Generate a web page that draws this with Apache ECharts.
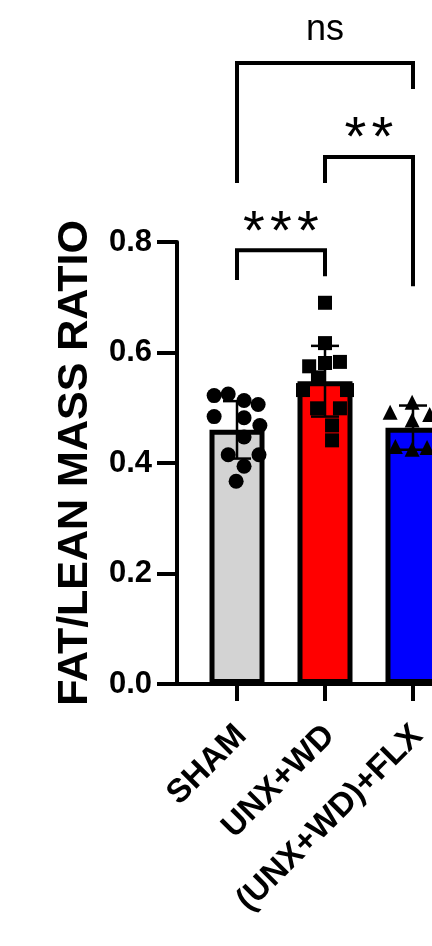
<!DOCTYPE html>
<html>
<head>
<meta charset="utf-8">
<title>Fat/Lean mass ratio</title>
<script src="https://cdn.jsdelivr.net/npm/echarts@6/dist/echarts.min.js"></script>
<style>
  html, body { margin: 0; padding: 0; background: #fff; }
  #chart { width: 432px; height: 946px; }
</style>
</head>
<body>
<div id="chart"></div>
<script>
// Groups and their summary values (mean ± SD)
const categories = ['SHAM', 'UNX+WD', '(UNX+WD)+FLX'];
const groupMeans = [0.460, 0.548, 0.464];
const groupSD = [0.052, 0.064, 0.040];
const barColors = ['#d3d3d3', '#ff0000', '#0000ff'];

// Individual animals per group
const shamValues = [0.522, 0.525, 0.513, 0.506, 0.484, 0.482, 0.468, 0.447, 0.415, 0.415, 0.394, 0.367];
const unxWdValues = [0.690, 0.617, 0.575, 0.581, 0.583, 0.555, 0.532, 0.532, 0.499, 0.499, 0.468, 0.441];
const flxValues = [0.492, 0.510, 0.488, 0.478, 0.430, 0.425, 0.428];

// Y axis ticks
const yTicks = [0, 0.2, 0.4, 0.6, 0.8];

// Pairwise comparisons: group positions (1-based), bracket heights and result
const bracketFrom = [1, 2, 1];
const bracketTo = [2, 3, 3];
const bracketTop = [0.785, 0.954, 1.124];
const bracketLeftEnd = [0.731, 0.907, 0.907];
const bracketRightEnd = [0.738, 0.720, 1.077];
const bracketLabels = ['***', '**', 'ns'];

// Horizontal scatter of the dots inside each bar (fraction of group spacing)
const shamSpread = [-0.26, -0.10, 0.08, 0.24, -0.26, 0.08, 0.26, 0.08, -0.10, 0.25, 0.08, -0.01];
const unxWdSpread = [0, 0, -0.18, 0, 0.17, -0.08, -0.25, 0.25, -0.09, 0.17, 0.08, 0.08];
const flxSpread = [-0.26, -0.01, 0.19, -0.01, -0.20, -0.01, 0.16];

const FONT = '"Liberation Sans", Arial, Helvetica, sans-serif';
const positions = categories.map((c, i) => i + 1);

const chart = echarts.init(document.getElementById('chart'), null, { renderer: 'canvas' });

function dots(values, spread, pos) {
  return values.map((v, k) => [pos + spread[k], v]);
}

const dotStyle = { color: '#000', opacity: 1 };

const option = {
  animation: false,
  backgroundColor: '#ffffff',
  grid: { left: 177, right: 0, top: 242, bottom: 262 },
  xAxis: {
    type: 'value',
    min: 0.318,
    max: 3.216,
    splitLine: { show: false },
    axisLine: { show: true, lineStyle: { color: '#000', width: 4 } },
    axisTick: {
      show: true, customValues: positions, length: 17, inside: false,
      lineStyle: { color: '#000', width: 4 }
    },
    axisLabel: {
      show: true, customValues: positions, rotate: 45, margin: 28,
      verticalAlign: 'top',
      padding: [0, 10, 0, 0],
      fontFamily: FONT, fontWeight: 'bold', fontSize: 33, color: '#000',
      formatter: (v) => categories[Math.round(v) - 1] || ''
    }
  },
  yAxis: {
    type: 'value',
    min: 0,
    max: 0.8,
    interval: 0.2,
    name: 'FAT/LEAN MASS RATIO',
    nameLocation: 'middle',
    nameRotate: 90,
    nameGap: 80,
    nameTextStyle: { fontFamily: FONT, fontWeight: 'bold', fontSize: 43, color: '#000' },
    splitLine: { show: false },
    axisLine: { show: true, lineStyle: { color: '#000', width: 4 } },
    axisTick: { show: true, length: 20, lineStyle: { color: '#000', width: 4 } },
    axisLabel: {
      margin: 25, fontFamily: FONT, fontWeight: 'bold', fontSize: 31, color: '#000',
      formatter: (v) => v.toFixed(1)
    }
  },
  series: [
    {
      type: 'bar',
      barWidth: 55,
      z: 1,
      data: positions.map((p, i) => ({
        value: [p, groupMeans[i]],
        itemStyle: { color: barColors[i], borderColor: '#000', borderWidth: 5 }
      }))
    },
    {
      // mean ± SD error bars
      type: 'custom',
      z: 2,
      data: positions.map((p, i) => [p, groupMeans[i], groupSD[i]]),
      renderItem: (params, api) => {
        const x = api.value(0), m = api.value(1), sd = api.value(2);
        const hi = api.coord([x, m + sd]);
        const lo = api.coord([x, m - sd]);
        const cap = 14;
        const style = { stroke: '#000', lineWidth: 2.5, fill: null };
        return {
          type: 'group',
          children: [
            { type: 'line', shape: { x1: hi[0], y1: hi[1], x2: lo[0], y2: lo[1] }, style },
            { type: 'line', shape: { x1: hi[0] - cap, y1: hi[1], x2: hi[0] + cap, y2: hi[1] }, style },
            { type: 'line', shape: { x1: lo[0] - cap, y1: lo[1], x2: lo[0] + cap, y2: lo[1] }, style }
          ]
        };
      }
    },
    {
      type: 'scatter', z: 3, symbol: 'circle', symbolSize: 15,
      itemStyle: dotStyle,
      data: dots(shamValues, shamSpread, 1)
    },
    {
      type: 'scatter', z: 3, symbol: 'rect', symbolSize: 14,
      itemStyle: dotStyle,
      data: dots(unxWdValues, unxWdSpread, 2)
    },
    {
      type: 'scatter', z: 3, symbol: 'triangle', symbolSize: 15,
      itemStyle: dotStyle,
      data: dots(flxValues, flxSpread, 3)
    },
    {
      // significance brackets
      type: 'custom',
      z: 4,
      clip: false,
      data: bracketLabels.map((t, i) => [bracketFrom[i], bracketTo[i], bracketTop[i], bracketLeftEnd[i], bracketRightEnd[i]]),
      renderItem: (params, api) => {
        const i = params.dataIndex;
        const xl = api.value(0), xr = api.value(1), top = api.value(2);
        const tl = api.coord([xl, top]);
        const tr = api.coord([xr, top]);
        const bl = api.coord([xl, api.value(3)]);
        const br = api.coord([xr, api.value(4)]);
        const children = [{
          type: 'polyline',
          shape: { points: [bl, tl, tr, br] },
          style: { stroke: '#000', lineWidth: 4, fill: null, lineJoin: 'miter' }
        }];
        const label = bracketLabels[i];
        const cx = (tl[0] + tr[0]) / 2;
        if (label.indexOf('*') === 0) {
          const n = label.length;
          const gap = 27;
          for (let k = 0; k < n; k++) {
            children.push({
              type: 'text',
              style: {
                text: '*', x: cx + (k - (n - 1) / 2) * gap, y: tl[1] - 17,
                align: 'center', verticalAlign: 'middle',
                font: '56px ' + FONT, fill: '#000'
              }
            });
          }
        } else {
          children.push({
            type: 'text',
            style: {
              text: label, x: cx, y: tl[1] - 33,
              align: 'center', verticalAlign: 'middle',
              font: '36px ' + FONT, fill: '#000'
            }
          });
        }
        return { type: 'group', children };
      }
    }
  ]
};

chart.setOption(option);
</script>
</body>
</html>
